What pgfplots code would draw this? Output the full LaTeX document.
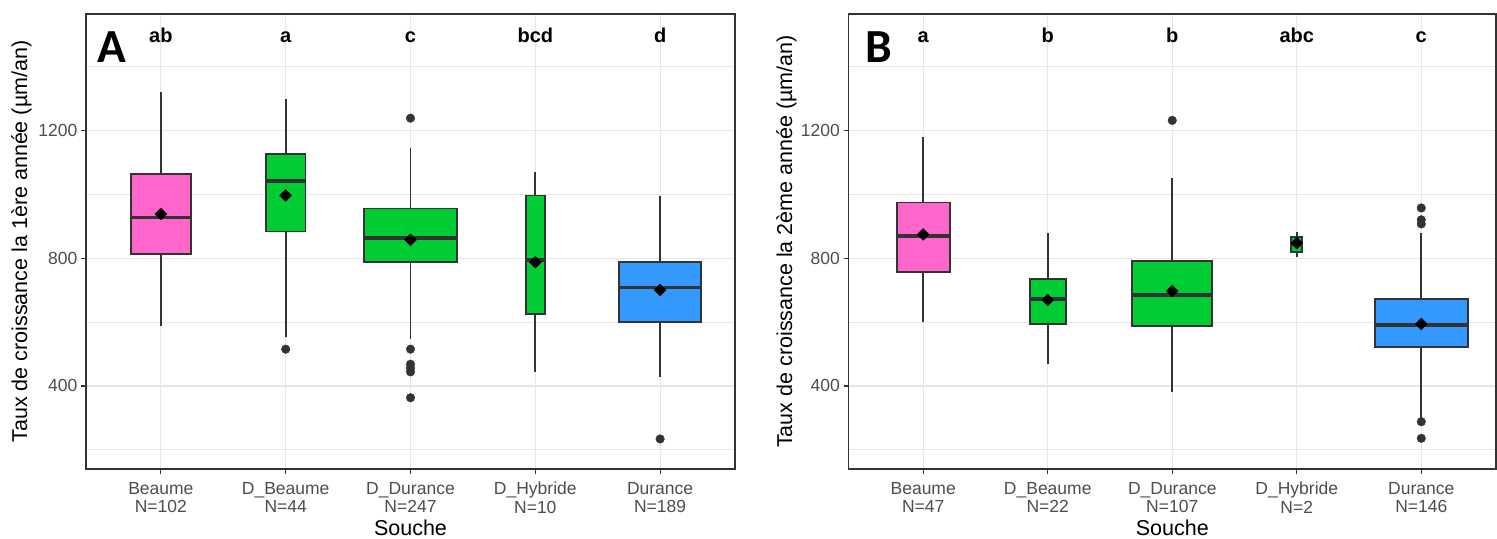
\documentclass[border=0pt]{standalone}
\usepackage{fontspec}
\setmainfont{Liberation Sans}
\newfontfamily\carlito{Carlito}
\usepackage{pgfplots}
\pgfplotsset{compat=1.18}
\definecolor{grey20}{HTML}{333333}
\definecolor{grey30}{HTML}{4D4D4D}
\definecolor{grey92}{HTML}{E6E6E6}
\definecolor{cpink}{HTML}{FF66CC}
\definecolor{cgreen}{HTML}{00CC33}
\definecolor{cblue}{HTML}{3399FF}
\tikzset{lett/.style={anchor=base, font=\bfseries\fontsize{20bp}{20bp}\selectfont}}
\pgfplotsset{
  panel/.style={
    scale only axis, height=455bp,
    xmin=0.4, xmax=5.6, ymin=140, ymax=1564,
    xtick={1,2,3,4,5}, ytick={400,800,1200}, minor ytick={200,600,1000,1400},
    xmajorgrids, ymajorgrids, yminorgrids,
    major grid style={draw=grey92, line width=1.2bp},
    minor grid style={draw=grey92, line width=0.9bp},
    axis line style={draw=grey20, line width=1.4bp},
    tick align=outside, tick pos=left,
    major tick length=5bp, minor tick length=0pt,
    every tick/.style={draw=grey20, line width=1.2bp},
    /pgf/number format/assume math mode=true,
    /pgf/number format/1000 sep={},
    yticklabel style={font=\fontsize{17.5bp}{18bp}\selectfont, text=grey30, inner sep=0pt, anchor=east, xshift=-3.5bp},
    xticklabel style={font=\fontsize{17.5bp}{18.2bp}\selectfont, text=grey30, inner sep=0pt, anchor=north, align=center, yshift=-8bp},
    every axis x label/.style={font=\fontsize{21.5bp}{22bp}\selectfont, at={(axis description cs:0.5,-0.147)}, anchor=base},
  },
  whisk/.style={draw=grey20, line width=1.8bp},
  boxs/.style={draw=grey20, line width=1.8bp, fill=#1},
  med/.style={draw=grey20, line width=3.8bp},
  outl/.style={only marks, mark=*, mark size=4.3bp, mark options={fill=grey20, draw=grey20}},
  meanm/.style={only marks, mark=square*, mark size=4.2bp, mark options={rotate=45, fill=black, draw=black}},
}
\begin{document}
\begin{tikzpicture}
\path[use as bounding box] (0,0) rectangle (1497bp,539bp);
% ---------------- Panel A ----------------
\begin{axis}[panel, at={(86bp,70bp)}, anchor=south west, width=649bp,
  xticklabels={{Beaume\\N=102},{D\_Beaume\\N=44},{D\_Durance\\N=247},{D\_Hybride\\N=10},{Durance\\N=189}},
  xlabel={Souche},
  ylabel={Taux de croissance la 1ère année (µm/an)},
  every axis y label/.style={font=\fontsize{21.5bp}{22bp}\selectfont, at={(axis description cs:-0.0995,0.5)}, rotate=90, anchor=center},
]
% whiskers
\addplot[whisk] coordinates {(1,588) (1,1319)};
\addplot[whisk] coordinates {(2,552) (2,1298)};
\addplot[whisk] coordinates {(3,546) (3,1146)};
\addplot[whisk] coordinates {(4,444) (4,1068)};
\addplot[whisk] coordinates {(5,429) (5,993)};
% boxes (lower quartile, upper quartile)
\addplot[boxs=cpink]  coordinates {(0.759,812) (1.241,812) (1.241,1064) (0.759,1064)} -- cycle;
\addplot[boxs=cgreen] coordinates {(1.8415,883) (2.1585,883) (2.1585,1127) (1.8415,1127)} -- cycle;
\addplot[boxs=cgreen] coordinates {(2.625,788) (3.375,788) (3.375,955) (2.625,955)} -- cycle;
\addplot[boxs=cgreen] coordinates {(3.9245,624) (4.0755,624) (4.0755,996) (3.9245,996)} -- cycle;
\addplot[boxs=cblue]  coordinates {(4.672,599) (5.328,599) (5.328,787) (4.672,787)} -- cycle;
% medians
\addplot[med] coordinates {(0.759,927) (1.241,927)};
\addplot[med] coordinates {(1.8415,1042) (2.1585,1042)};
\addplot[med] coordinates {(2.625,864) (3.375,864)};
\addplot[med] coordinates {(3.9245,794) (4.0755,794)};
\addplot[med] coordinates {(4.672,708) (5.328,708)};
% outliers
\addplot[outl] coordinates {(2,515) (3,1238) (3,515) (3,468) (3,456) (3,444) (3,363) (5,234)};
% means
\addplot[meanm] coordinates {(1,938) (2,996) (3,857) (4,787) (5,700)};
\node[lett] at (axis cs:1,1474) {ab};
\node[lett] at (axis cs:2,1474) {a};
\node[lett] at (axis cs:3,1474) {c};
\node[lett] at (axis cs:4,1474) {bcd};
\node[lett] at (axis cs:5,1474) {d};
\end{axis}
% ---------------- Panel B ----------------
\begin{axis}[panel, at={(848.5bp,70bp)}, anchor=south west, width=647.5bp,
  xticklabels={{Beaume\\N=47},{D\_Beaume\\N=22},{D\_Durance\\N=107},{D\_Hybride\\N=2},{Durance\\N=146}},
  xlabel={Souche},
  ylabel={Taux de croissance la 2ème année (µm/an)},
  every axis y label/.style={font=\fontsize{21.5bp}{22bp}\selectfont, at={(axis description cs:-0.0959,0.5)}, rotate=90, anchor=center},
]
\addplot[whisk] coordinates {(1,601) (1,1178)};
\addplot[whisk] coordinates {(2,468) (2,878)};
\addplot[whisk] coordinates {(3,380) (3,1051)};
\addplot[whisk] coordinates {(4,805) (4,883)};
\addplot[whisk] coordinates {(5,298) (5,878)};
\addplot[boxs=cpink]  coordinates {(0.7872,756) (1.2128,756) (1.2128,974) (0.7872,974)} -- cycle;
\addplot[boxs=cgreen] coordinates {(1.8545,594) (2.1455,594) (2.1455,735) (1.8545,735)} -- cycle;
\addplot[boxs=cgreen] coordinates {(2.679,588) (3.321,588) (3.321,791) (2.679,791)} -- cycle;
\addplot[boxs=cgreen] coordinates {(3.955,820) (4.045,820) (4.045,867) (3.955,867)} -- cycle;
\addplot[boxs=cblue]  coordinates {(4.625,521) (5.375,521) (5.375,671) (4.625,671)} -- cycle;
\addplot[med] coordinates {(0.7872,870) (1.2128,870)};
\addplot[med] coordinates {(1.8545,673) (2.1455,673)};
\addplot[med] coordinates {(2.679,685) (3.321,685)};
\addplot[med] coordinates {(3.955,845) (4.045,845)};
\addplot[med] coordinates {(4.625,591) (5.375,591)};
\addplot[outl] coordinates {(3,1231) (5,957) (5,920) (5,907) (5,288) (5,236)};
\addplot[meanm] coordinates {(1,874) (2,669) (3,697) (4,847) (5,594)};
\node[lett] at (axis cs:1,1474) {a};
\node[lett] at (axis cs:2,1474) {b};
\node[lett] at (axis cs:3,1474) {b};
\node[lett] at (axis cs:4,1474) {abc};
\node[lett] at (axis cs:5,1474) {c};
\end{axis}
\node[anchor=base west, inner sep=0pt, font=\carlito\bfseries\fontsize{47.5bp}{48bp}\selectfont] at (97.5bp,476.7bp) {A};
\node[anchor=base west, inner sep=0pt, font=\carlito\bfseries\fontsize{47.5bp}{48bp}\selectfont] at (865bp,476.7bp) {B};
\end{tikzpicture}
\end{document}
